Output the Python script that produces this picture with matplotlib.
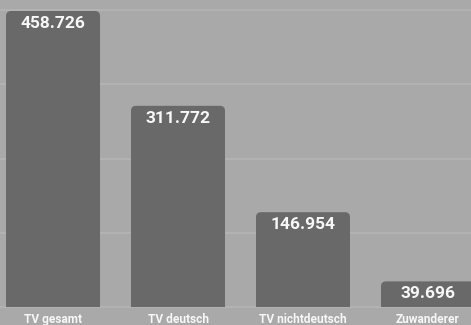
import matplotlib
matplotlib.use("Agg")
import matplotlib.pyplot as plt
from matplotlib.patches import FancyBboxPatch

categories = ["TV gesamt", "TV deutsch", "TV nichtdeutsch", "Zuwanderer"]
values = [458.726, 311.772, 146.954, 39.696]
value_labels = ["458.726", "311.772", "146.954", "39.696"]
grid_ticks = [115, 230, 345, 460]

BG = "#a9a9a9"
BAR = "#696969"
GRID = "#b6b6b6"
TXT = "#f7f7f7"
FONT = "Roboto"

W, H = 471, 325
fig = plt.figure(figsize=(W / 100, H / 100), dpi=100)
fig.patch.set_facecolor(BG)
base_px = 307
ax = fig.add_axes([0, (H - base_px) / H, 1, base_px / H])
ax.set_facecolor(BG)

scale = 296 / 458.726  # px per unit
ax.set_ylim(0, base_px / scale)
ax.set_xlim(-53 / 125, (W - 53) / 125)

for s in ax.spines.values():
    s.set_visible(False)
ax.set_yticks(grid_ticks)
ax.set_yticklabels([])
ax.tick_params(length=0)
ax.grid(axis="y", color=GRID, linewidth=1.1)
ax.set_axisbelow(True)
ax.axhline(0, color=GRID, linewidth=1.1, clip_on=False, zorder=1)

x = list(range(len(categories)))
width = 94 / 125
bars = ax.bar(x, values, width=width, color=BAR, zorder=2)

r_px = 5
rx = r_px / 125
ry = r_px / scale
for b in bars:
    b.set_visible(False)
    x0, y0 = b.get_x(), b.get_y()
    w, h = b.get_width(), b.get_height()
    p = FancyBboxPatch((x0, y0 - 3 * ry), w, h + 3 * ry,
                       boxstyle=f"round,pad=0,rounding_size={rx}",
                       mutation_aspect=ry / rx,
                       facecolor=BAR, edgecolor="none", zorder=2)
    ax.add_patch(p)

for xi, v, lab in zip(x, values, value_labels):
    ax.annotate(lab, (xi, v), xytext=(0, -3.5), textcoords="offset points",
                ha="center", va="top", color=TXT, fontsize=12.5,
                fontweight="bold", family=FONT, zorder=3)

ax.set_xticks(x)
ax.set_xticklabels(categories, color=TXT, fontsize=8.6, fontweight="bold",
                   family=FONT)
ax.tick_params(axis="x", pad=4.5)

fig.savefig("out.png", dpi=100, facecolor=BG)
